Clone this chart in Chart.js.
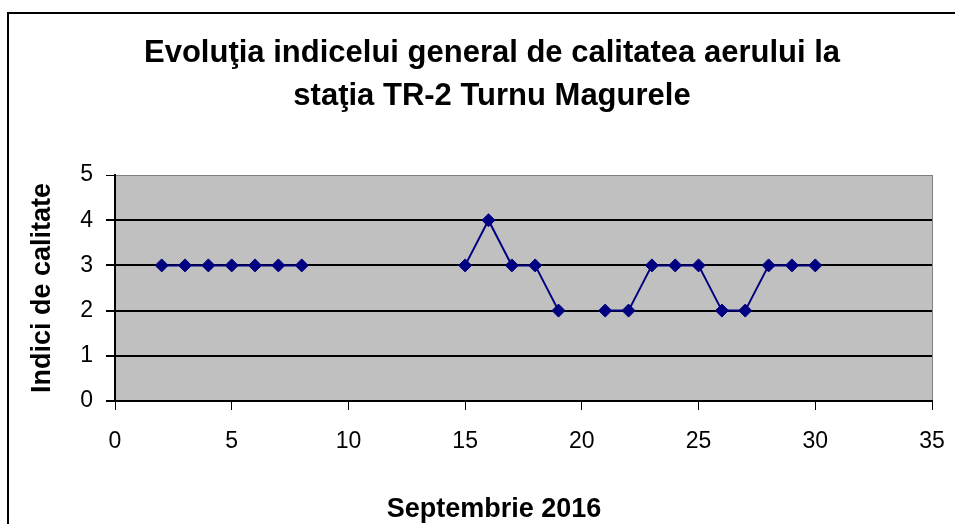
<!DOCTYPE html>
<html>
<head>
<meta charset="utf-8">
<script src="https://cdn.jsdelivr.net/npm/chart.js@4/dist/chart.umd.min.js"></script>
<style>
  html, body { margin: 0; padding: 0; background: #ffffff; overflow: hidden; }
  #wrap { position: relative; width: 955px; height: 524px; }
  #frame { position: absolute; left: 7px; top: 12px; width: 1000px; height: 600px; border: 2px solid #000; box-sizing: border-box; pointer-events: none; }
  canvas { position: absolute; left: 0; top: 0; }
</style>
</head>
<body>
<div id="wrap">
  <canvas id="c" width="955" height="524"></canvas>
  <div id="frame"></div>
</div>
<script>
const titleLines = ["Evoluţia indicelui general de calitatea aerului la", "staţia TR-2 Turnu Magurele"];
const xAxisTitle = "Septembrie 2016";
const yAxisTitle = "Indici de calitate";
const days   = [2, 3, 4, 5, 6, 7, 8, 9, 10, 11, 12, 13, 14, 15, 16, 17, 18, 19, 20, 21, 22, 23, 24, 25, 26, 27, 28, 29, 30];
const values = [3, 3, 3, 3, 3, 3, 3, null, null, null, null, null, null, 3, 4, 3, 3, 2, null, 2, 2, 3, 3, 3, 2, 2, 3, 3, 3];
const xTicks = [0, 5, 10, 15, 20, 25, 30, 35];
const yTicks = [0, 1, 2, 3, 4, 5];

const FONT = "Arial, 'Liberation Sans', sans-serif";

const bgPlugin = {
  id: 'plotBg',
  beforeDraw(chart) {
    const a = chart.chartArea, ctx = chart.ctx;
    ctx.save();
    ctx.fillStyle = '#C0C0C0';
    ctx.fillRect(a.left, a.top, a.right - a.left, a.bottom - a.top);
    ctx.restore();
  },
  afterDraw(chart) {
    const ctx = chart.ctx;
    ctx.save();
    ctx.fillStyle = '#000';
    ctx.textAlign = 'center';
    ctx.textBaseline = 'alphabetic';
    ctx.font = "bold 31px " + FONT;
    ctx.fillText(titleLines[0], 492, 62);
    ctx.fillText(titleLines[1], 492, 105);
    ctx.font = "bold 27px " + FONT;
    ctx.fillText(xAxisTitle, 494, 517);
    ctx.restore();
  }
};

new Chart(document.getElementById('c'), {
  type: 'scatter',
  data: {
    datasets: [{
      data: days.map((d, i) => ({ x: d, y: values[i] })),
      showLine: true,
      spanGaps: false,
      borderColor: '#000080',
      backgroundColor: '#000080',
      borderWidth: 2,
      pointStyle: 'rectRot',
      pointRadius: 6.5,
      pointHoverRadius: 6.5,
      pointBorderWidth: 1,
      tension: 0
    }]
  },
  options: {
    responsive: false,
    animation: false,
    events: [],
    layout: { padding: { top: 175, right: 23, left: 0, bottom: 0 } },
    plugins: { legend: { display: false }, tooltip: { enabled: false }, title: { display: false } },
    scales: {
      x: {
        type: 'linear',
        min: 0, max: 35,
        afterBuildTicks(s) { s.ticks = xTicks.map(v => ({ value: v })); },
        afterFit(s) { s.height = 123; s.paddingLeft = 0; s.paddingRight = 0; },
        grid: {
          drawOnChartArea: true,
          color: (c) => c.tick && c.tick.value === 35 ? '#808080' : 'rgba(0,0,0,0)',
          tickColor: '#000',
          tickLength: 9,
          lineWidth: 1
        },
        border: { display: true, color: '#000', width: 2 },
        ticks: { color: '#000', font: { family: FONT, size: 23 }, padding: 18, maxRotation: 0 }
      },
      y: {
        min: 0, max: 5,
        afterBuildTicks(s) { s.ticks = yTicks.map(v => ({ value: v })); },
        afterFit(s) { s.width = 115; s.paddingTop = 0; s.paddingBottom = 0; },
        grid: {
          color: (c) => c.tick && c.tick.value === 5 ? '#808080' : '#000',
          tickColor: '#000',
          tickLength: 9,
          lineWidth: (c) => c.tick && c.tick.value === 5 ? 1 : 2
        },
        border: { display: true, color: '#000', width: 2 },
        ticks: { color: '#000', font: { family: FONT, size: 23 }, padding: 13 },
        title: { display: true, text: yAxisTitle, color: '#000', font: { family: FONT, size: 27, weight: 'bold' }, padding: { top: 26, bottom: 0 } }
      }
    }
  },
  plugins: [bgPlugin]
});
</script>
</body>
</html>
